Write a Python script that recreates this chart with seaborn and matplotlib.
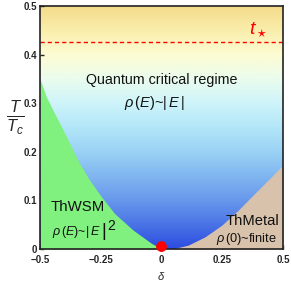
import numpy as np
import matplotlib
matplotlib.use("Agg")
from matplotlib import pyplot as plt
from matplotlib.colors import LinearSegmentedColormap
import seaborn as sns

# phase boundaries
wsm_delta = [-0.5, -0.474, -0.44, -0.405, -0.371, -0.337, -0.296, -0.248,
             -0.193, -0.117, -0.042, -0.014, 0.0]
wsm_T = [0.35, 0.313, 0.279, 0.245, 0.21, 0.176, 0.142, 0.108,
         0.073, 0.039, 0.012, 0.004, 0.0]
metal_delta = [0.0, 0.03, 0.056, 0.11, 0.179, 0.248, 0.316, 0.385, 0.453, 0.5]
metal_T = [0.0, 0.0003, 0.0015, 0.008, 0.025, 0.049, 0.08, 0.115, 0.149, 0.173]

t_star = 0.425
qcp_delta = [0.0]
qcp_T = [0.005]

xticks = [-0.5, -0.25, 0, 0.25, 0.5]
xticklabels = ['\u22120.5', '\u22120.25', '0', '0.25', '0.5']
yticks = [0, 0.1, 0.2, 0.3, 0.4, 0.5]
yticklabels = ['0', '0.1', '0.2', '0.3', '0.4', '0.5']

sns.set_style("ticks")
plt.rcParams['font.family'] = ['Liberation Sans', 'DejaVu Sans']
plt.rcParams['mathtext.fontset'] = 'custom'
plt.rcParams['mathtext.rm'] = 'Liberation Sans'
plt.rcParams['mathtext.it'] = 'Liberation Sans:italic'
plt.rcParams['mathtext.bf'] = 'Liberation Sans:bold'

fig = plt.figure(figsize=(2.91, 2.83), dpi=100)
ax = fig.add_axes([40/291, 1-249/283, 243/291, 243/283])

# background gradient in T
stops = [(0.0, '#2c4ce0'), (0.1, '#4a74e6'), (0.2, '#6898ec'), (0.3, '#80b6f0'),
         (0.4, '#9ad2f5'), (0.5, '#b2e6f8'), (0.6, '#cef4fa'), (0.7, '#eafcee'),
         (0.8, '#fdfcd2'), (0.9, '#faeeac'), (1.0, '#f4db8a')]
cmap = LinearSegmentedColormap.from_list('qc', stops)
grad = np.linspace(0, 1, 256).reshape(-1, 1)
ax.imshow(grad, extent=[-0.5, 0.5, 0, 0.5], origin='lower', aspect='auto',
          cmap=cmap, zorder=0)

ax.fill_between(wsm_delta, wsm_T, 0, color='#80f07e', lw=0, zorder=1)
ax.fill_between(metal_delta, metal_T, 0, color='#d8c2ab', lw=0, zorder=1)

ax.axhline(t_star, color='red', ls=(0, (3, 2.2)), lw=1.0, zorder=2)
sns.scatterplot(x=qcp_delta, y=qcp_T, ax=ax, s=60, color='red',
                edgecolor='none', zorder=5, clip_on=False)

ax.set_xlim(-0.5, 0.5)
ax.set_ylim(0, 0.5)
ax.set_xticks(xticks)
ax.set_xticklabels(xticklabels)
ax.set_yticks(yticks)
ax.set_yticklabels(yticklabels)
ax.tick_params(direction='in', length=3, width=1, labelsize=7, pad=2)
ax.tick_params(axis='x', pad=4)
for lab in ax.get_xticklabels() + ax.get_yticklabels():
    lab.set_fontweight('bold')
for sp in ax.spines.values():
    sp.set_linewidth(1.2)
    sp.set_color('#222222')

ax.text(0.0, 0.348, 'Quantum critical regime', ha='center', va='center',
        fontsize=10.3, color='#111111')
ax.text(-0.03, 0.30, r'$\rho\,(E)$~$|\,E\,|$', ha='center', va='center',
        fontsize=10.5, color='#111111')
ax.text(-0.455, 0.086, 'ThWSM', ha='left', va='center', fontsize=10.8, color='#111111')
t1 = ax.text(-0.452, 0.035, r'$\rho\,(E)$~$|\,E\,$', ha='left', va='center',
             fontsize=9, color='#111111')
bar = ax.annotate(r'$|$', xy=(1, 0.5), xycoords=t1, xytext=(0.5, 0.5),
                  textcoords='offset points', ha='left', va='center',
                  fontsize=13, color='#111111')
ax.annotate('2', xy=(1, 0.5), xycoords=bar, xytext=(1, 3.5),
            textcoords='offset points', ha='left', va='center',
            fontsize=10, color='#111111')
ax.text(0.487, 0.058, 'ThMetal', ha='right', va='center', fontsize=10.6, color='#111111')
ax.text(0.475, 0.02, r'$\rho\,(0)$~finite', ha='right', va='center',
        fontsize=9.2, color='#111111')
ax.text(0.397, 0.452, r'$t_\star$', ha='center', va='center', fontsize=14,
        color='red')

fig.text(15/291, 1-118/283, r'$\frac{T}{T_c}$', ha='center', va='center', fontsize=17)
fig.text(161/291, 1-276/283, r'$\delta$', ha='center', va='center', fontsize=8)

fig.savefig('out.png', dpi=100)
